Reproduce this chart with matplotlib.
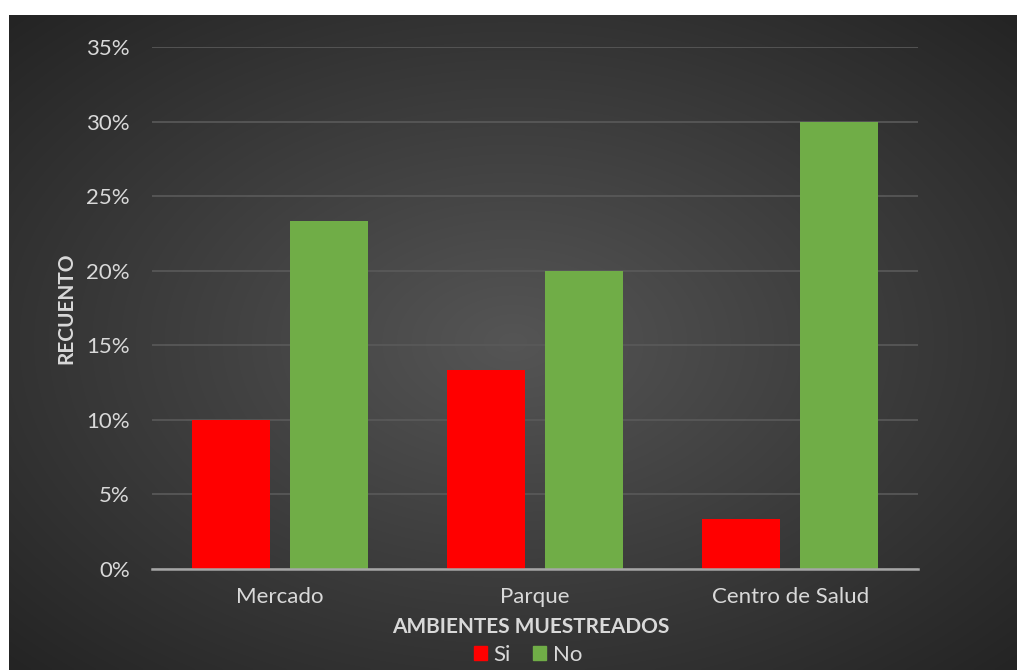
import numpy as np
import matplotlib
matplotlib.use("Agg")
import matplotlib.pyplot as plt
from matplotlib.patches import Patch

categories = ["Mercado", "Parque", "Centro de Salud"]
si_values = [10.0, 13.33, 3.33]
no_values = [23.33, 20.0, 30.0]
yticks = [0, 5, 10, 15, 20, 25, 30, 35]

plt.rcParams['font.family'] = ['Lato', 'DejaVu Sans']
txt = '#d9d9d9'

W, H = 1017, 670
fig = plt.figure(figsize=(W/100, H/100), dpi=100)
fig.patch.set_facecolor('white')

# background panel with radial gradient
bg = fig.add_axes([9/W, 0, 1008/W, 655/H], zorder=-1)
nx, ny = 400, 260
xx, yy = np.meshgrid(np.linspace(-1, 1, nx), np.linspace(-1, 1, ny))
r = np.sqrt(xx**2 + yy**2) / np.sqrt(2)
inner = np.array([0x55, 0x55, 0x55]) / 255
outer = np.array([0x24, 0x24, 0x24]) / 255
img = inner[None, None, :] * (1 - r[..., None]) + outer[None, None, :] * r[..., None]
bg.imshow(img, aspect='auto', extent=[0, 1, 0, 1], interpolation='bilinear')
bg.set_axis_off()

ax = fig.add_axes([152/W, (H-569)/H, (918-152)/W, (569-47)/H])
ax.set_facecolor('none')
x = np.arange(len(categories))
bw = 0.306
off = 0.192
ax.bar(x - off, si_values, bw, color='#ff0000', label='Si', zorder=3)
ax.bar(x + off, no_values, bw, color='#70ad47', label='No', zorder=3)

ax.set_xlim(-0.5, 2.5)
ax.set_ylim(0, 35)
ax.set_yticks(yticks)
ax.set_yticklabels([f"{v}%" for v in yticks], color=txt, fontsize=16)
ax.set_xticks(x)
ax.set_xticklabels(categories, color=txt, fontsize=16)
ax.tick_params(axis='y', length=0, pad=16)
ax.tick_params(axis='x', length=0, pad=13)
ax.grid(axis='y', color='#5a5a5a', linewidth=1.2, zorder=0)
for s in ['top', 'right', 'left']:
    ax.spines[s].set_visible(False)
ax.spines['bottom'].set_color('#a6a6a6')
ax.spines['bottom'].set_linewidth(1.8)
ax.spines['bottom'].set_zorder(4)

fig.text(531/W, 1 - 627/H, 'AMBIENTES MUESTREADOS', ha='center', va='center',
         color=txt, fontsize=15, fontweight='bold')
fig.text(66/W, 1 - 308/H, 'RECUENTO', ha='center', va='center', rotation=90,
         color=txt, fontsize=15, fontweight='bold')

handles = [Patch(color='#ff0000', label='Si'), Patch(color='#70ad47', label='No')]
fig.legend(handles=handles, loc='center', bbox_to_anchor=(528/W, 1 - 655/H), ncol=2,
           frameon=False, fontsize=16, labelcolor=txt, handlelength=0.6, handleheight=0.6,
           handletextpad=0.3, columnspacing=1.0, borderpad=0)

fig.savefig('out.png', dpi=100, facecolor='white')
